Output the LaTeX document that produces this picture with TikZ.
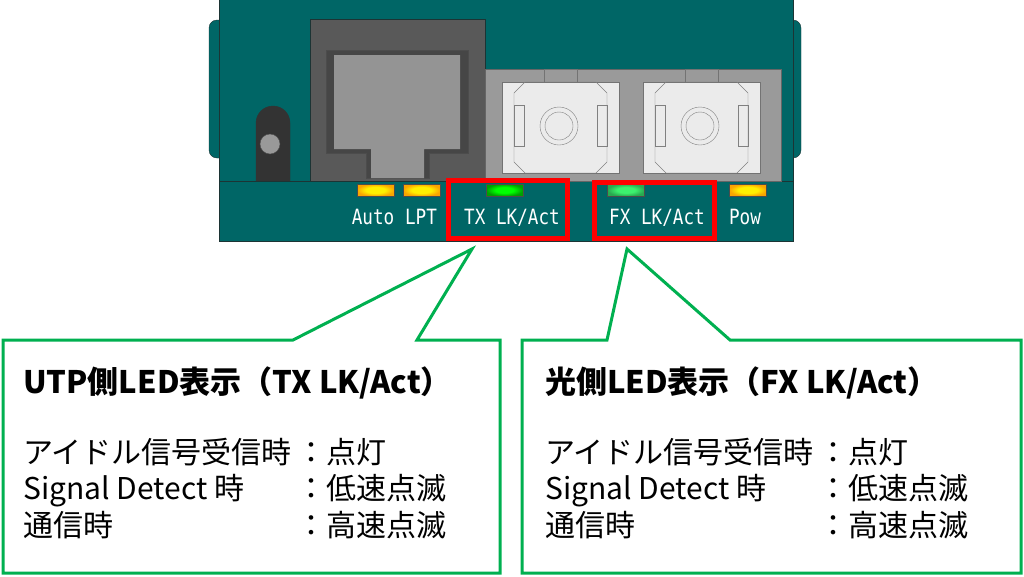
\documentclass[tikz,border=0pt]{standalone}
\usepackage{fontspec}
\usepackage{xcolor}
\usepackage{tikz}
\setmainfont{Noto Sans CJK JP}
\newfontfamily\ledfont[FakeStretch=0.84]{DejaVu Sans Mono}

\definecolor{bodyteal}{RGB}{0,102,102}
\definecolor{edgedark}{RGB}{28,52,52}
\definecolor{slotdark}{RGB}{51,51,51}
\definecolor{jackgray}{RGB}{89,89,89}
\definecolor{jackrim}{RGB}{70,70,70}
\definecolor{jackin}{RGB}{148,148,148}
\definecolor{panelgray}{RGB}{154,154,154}
\definecolor{scwhite}{RGB}{235,235,235}
\definecolor{callgreen}{RGB}{0,176,80}
\definecolor{ledred}{RGB}{255,0,0}
\definecolor{ledamber}{RGB}{250,165,0}
\definecolor{ledyellow}{RGB}{255,240,0}
\definecolor{txbright}{RGB}{0,255,0}
\definecolor{txdark}{RGB}{0,160,0}
\definecolor{fxmint}{RGB}{60,240,110}
\definecolor{fxdark}{RGB}{40,170,80}

\pgfdeclareradialshading{amberglow}{\pgfpoint{0bp}{0bp}}{color(0bp)=(ledyellow); color(13bp)=(ledyellow); color(25bp)=(ledamber); color(50bp)=(ledamber)}
\pgfdeclareradialshading{txglow}{\pgfpoint{0bp}{0bp}}{color(0bp)=(txbright); color(12bp)=(txbright); color(25bp)=(txdark); color(50bp)=(txdark)}
\pgfdeclareradialshading{fxglow}{\pgfpoint{0bp}{0bp}}{color(0bp)=(fxmint); color(12bp)=(fxmint); color(25bp)=(fxdark); color(50bp)=(fxdark)}

\begin{document}
\begin{tikzpicture}[x=1pt,y=1pt]
\tikzstyle{every node}+=[inner sep=0pt]
\tikzstyle{led}=[draw=black!70, minimum width=37pt, minimum height=12pt]
\tikzstyle{led label}=[text=white, font=\ledfont\fontsize{21}{21}\selectfont, anchor=base]
\tikzstyle{red frame}=[draw=ledred, line width=5pt]
\tikzstyle{balloon}=[draw=callgreen, line width=3pt, fill=white]
\tikzstyle{title text}=[font=\fontsize{31}{36}\selectfont\bfseries, anchor=base west]
\tikzstyle{body text}=[font=\fontsize{30}{36.5}\selectfont, anchor=base west]
\useasboundingbox (0,0) rectangle (1024,-576);
% side tabs and housing
\draw [edgedark, fill=bodyteal, rounded corners=8] (209,-20) rectangle (230,-158);
\draw [edgedark, fill=bodyteal, rounded corners=8] (782,-20) rectangle (801,-158);
\draw [edgedark, fill=bodyteal] (219,2) rectangle (793,-241);
\draw [edgedark] (219,-181) -- (793,-181);
% screw slot
\draw [black!80, fill=slotdark] (256,-181) -- (256,-123) arc (180:0:17) -- (290,-181);
\draw [black!70, fill=black!40] (270,-144) circle (10);
% RJ45 jack
\draw [edgedark, fill=jackgray] (310,-19) rectangle (485,-181);
\draw [black!70, fill=jackrim] (326,-50) -- (468,-50) -- (468,-153) -- (429,-153) -- (429,-178) -- (366,-178) -- (366,-153) -- (326,-153) -- cycle;
\fill [jackin] (334,-55) -- (460,-55) -- (460,-149) -- (424,-149) -- (424,-178) -- (371,-178) -- (371,-149) -- (334,-149) -- cycle;
% fiber ports
\draw [black!60, fill=panelgray] (485,-69) rectangle (781,-181);
\foreach \sx in {0,141}
{
\begin{scope}[xshift=\sx]
\draw [black!55] (544,-69) rectangle (577,-82);
\draw [black!55, fill=scwhite] (502,-82) rectangle (619,-173);
\draw [black!50] (525,-82) -- (596,-82) -- (607,-93) -- (607,-162) -- (596,-173) -- (525,-173) -- (514,-162) -- (514,-93) -- cycle;
\draw [black!50] (514,-105) rectangle (524,-146);
\draw [black!50] (597,-105) rectangle (607,-146);
\draw [black!50] (559,-126) circle (19);
\draw [black!50] (559,-126) circle (14);
\end{scope}
}
% LEDs
\node [led, shading=amberglow] (autoled) at (375.5,-190) {};
\node [led, shading=amberglow] (lptled) at (421.5,-190) {};
\node [led, shading=txglow] (txled) at (504.5,-190) {};
\node [led, shading=fxglow] (fxled) at (626,-190) {};
\node [led, shading=amberglow] (powled) at (748,-190) {};
\node [led label] (autolbl) at (373,-224) {Auto};
\node [led label] (lptlbl) at (421,-224) {LPT};
\node [led label] (txlbl) at (512,-224) {TX LK/Act};
\node [led label] (fxlbl) at (657,-224) {FX LK/Act};
\node [led label] (powlbl) at (745,-224) {Pow};
\draw [red frame] (448.5,-180.5) rectangle (567.5,-238.5);
\draw [red frame] (594.5,-182.5) rectangle (714.5,-238.5);
% callouts
\draw [balloon] (3,-340) -- (293,-340) -- (472,-249) -- (417,-340) -- (500,-340) -- (500,-573) -- (3,-573) -- cycle;
\draw [balloon] (522,-340) -- (607,-340) -- (627,-249) -- (730,-340) -- (1021,-340) -- (1021,-573) -- (522,-573) -- cycle;
\node [title text] (utptitle) at (23,-393) {UTP側LED表示（TX LK/Act）};
\node [body text] (utpbody) at (23,-463) {\begin{tabular}[t]{@{}l@{\hspace{5pt}}l@{}}
アイドル信号受信時 & ：点灯\\
Signal Detect 時 & ：低速点滅\\
通信時 & ：高速点滅
\end{tabular}};
\node [title text] (fxtitle) at (545,-393) {光側LED表示（FX LK/Act）};
\node [body text] (fxbody) at (545,-463) {\begin{tabular}[t]{@{}l@{\hspace{5pt}}l@{}}
アイドル信号受信時 & ：点灯\\
Signal Detect 時 & ：低速点滅\\
通信時 & ：高速点滅
\end{tabular}};
\end{tikzpicture}
\end{document}
